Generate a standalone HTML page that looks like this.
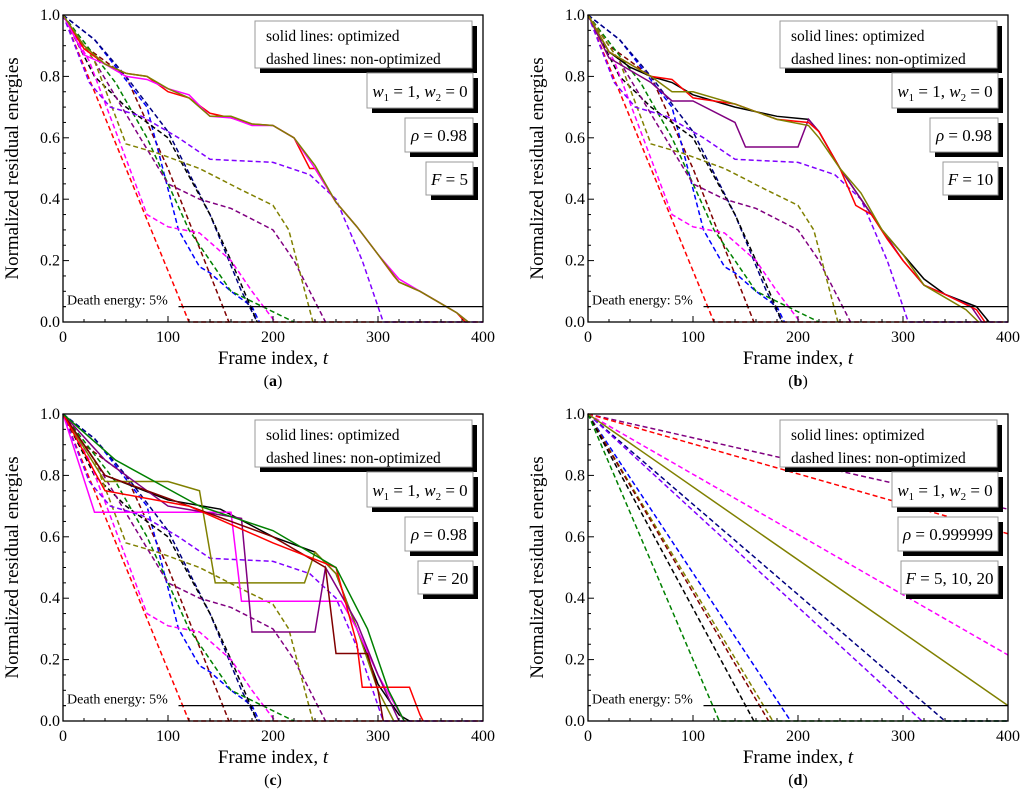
<!DOCTYPE html>
<html><head><meta charset="utf-8"><style>
html,body{margin:0;padding:0;background:#fff;}
svg text{font-family:"Liberation Serif",serif;fill:#000;}
</style></head><body>
<svg id="fig" width="1024" height="793" viewBox="0 0 1024 793" xmlns="http://www.w3.org/2000/svg"></svg>
<script>
// ---- data (t, normalized energy) ----
const dashA = {
 red:[[0,1],[120,0],[400,0]],
 darkred:[[0,1],[20,0.9],[60,0.8],[100,0.5],[158,0]],
 blue:[[0,1],[30,0.92],[80,0.7],[110,0.3],[130,0.18],[140,0.16],[160,0.1],[180,0.05],[187,0]],
 navy:[[0,1],[30,0.92],[60,0.8],[100,0.62],[140,0.35],[170,0.1],[185,0]],
 green:[[0,1],[50,0.78],[80,0.6],[120,0.3],[160,0.1],[190,0.05],[220,0]],
 black:[[0,1],[30,0.8],[60,0.7],[100,0.6],[140,0.35],[160,0.2],[185,0]],
 magenta:[[0,1],[25,0.85],[80,0.35],[100,0.31],[130,0.29],[160,0.2],[180,0.1],[202,0]],
 purple:[[0,1],[30,0.85],[70,0.62],[100,0.45],[130,0.4],[160,0.37],[200,0.3],[220,0.2],[250,0]],
 olive:[[0,1],[30,0.85],[60,0.58],[90,0.55],[130,0.5],[170,0.43],[200,0.38],[215,0.3],[238,0]],
 violet:[[0,1],[25,0.78],[45,0.7],[75,0.67],[110,0.6],[140,0.53],[200,0.52],[235,0.48],[260,0.4],[285,0.2],[305,0],[400,0]]
};
const solidA = {
 red:[[0,1],[20,0.89],[40,0.84],[60,0.81],[80,0.8],[100,0.75],[120,0.73],[140,0.68],[160,0.665],[180,0.645],[200,0.64],[220,0.6],[235,0.5],[240,0.5],[260,0.39],[280,0.31],[300,0.22],[315,0.15],[320,0.13],[340,0.1],[360,0.06],[375,0.03],[383,0]],
 magenta:[[0,1],[20,0.87],[40,0.84],[60,0.8],[80,0.79],[100,0.76],[120,0.74],[140,0.67],[160,0.665],[180,0.64],[200,0.64],[220,0.6],[240,0.5],[260,0.39],[280,0.31],[300,0.22],[320,0.14],[340,0.1],[360,0.06],[375,0.03],[386,0]],
 olive:[[0,1],[20,0.9],[40,0.84],[60,0.81],[80,0.8],[100,0.76],[120,0.73],[140,0.67],[160,0.67],[180,0.645],[200,0.64],[220,0.6],[240,0.51],[260,0.39],[280,0.31],[300,0.22],[320,0.13],[340,0.1],[360,0.06],[375,0.03],[386,0]]
};
const solidB = {
 black:[[0,1],[20,0.88],[40,0.83],[60,0.8],[80,0.78],[100,0.74],[140,0.7],[180,0.67],[210,0.66],[220,0.62],[240,0.5],[260,0.4],[280,0.3],[300,0.22],[320,0.14],[340,0.09],[370,0.05],[382,0]],
 purple:[[0,1],[20,0.86],[40,0.82],[60,0.78],[80,0.72],[100,0.72],[140,0.65],[150,0.57],[200,0.57],[210,0.66],[220,0.62],[240,0.5],[260,0.4],[280,0.3],[300,0.2],[320,0.12],[340,0.09],[365,0.05],[375,0]],
 red:[[0,1],[20,0.88],[40,0.84],[60,0.8],[80,0.79],[100,0.73],[140,0.71],[180,0.66],[210,0.65],[220,0.62],[240,0.5],[255,0.38],[270,0.35],[285,0.27],[300,0.2],[320,0.12],[340,0.09],[370,0.04],[378,0]],
 olive:[[0,1],[20,0.88],[40,0.84],[60,0.8],[80,0.75],[100,0.75],[140,0.71],[180,0.66],[210,0.64],[220,0.6],[240,0.5],[260,0.42],[280,0.3],[300,0.22],[320,0.12],[340,0.08],[360,0.04],[372,0]]
};
const solidC = {
 black:[[0,1],[40,0.8],[100,0.72],[150,0.69],[200,0.6],[240,0.55],[260,0.48],[280,0.3],[300,0.12],[320,0.02],[330,0]],
 olive:[[0,1],[40,0.78],[100,0.78],[130,0.75],[145,0.45],[230,0.45],[240,0.55],[260,0.48],[280,0.3],[300,0.1],[315,0]],
 magenta:[[0,1],[30,0.68],[100,0.68],[160,0.68],[170,0.39],[265,0.39],[280,0.3],[300,0.15],[320,0.03],[325,0]],
 purple:[[0,1],[40,0.85],[100,0.7],[170,0.66],[180,0.29],[240,0.29],[250,0.5],[280,0.32],[300,0.15],[320,0]],
 darkred:[[0,1],[40,0.8],[120,0.7],[200,0.6],[250,0.5],[260,0.22],[290,0.22],[300,0.1],[305,0]],
 red:[[0,1],[40,0.75],[120,0.7],[200,0.58],[260,0.5],[280,0.25],[285,0.11],[330,0.11],[340,0.02],[343,0]],
 green:[[0,1],[50,0.85],[130,0.7],[200,0.62],[260,0.5],[290,0.3],[310,0.1],[325,0]]
};
const dashD = {
 purple:[[0,1],[400,0.69]],
 red:[[0,1],[400,0.61]],
 magenta:[[0,1],[400,0.215]],
 navy:[[0,1],[340,0],[400,0]],
 violet:[[0,1],[318,0]],
 blue:[[0,1],[193,0]],
 olive:[[0,1],[176,0]],
 darkred:[[0,1],[172,0]],
 black:[[0,1],[158,0]],
 green:[[0,1],[125,0],[400,0]]
};
const solidD = { olive:[[0,1],[400,0.05]] };
const xTicks=[0,100,200,300,400];
const yTicks=[0,0.2,0.4,0.6,0.8,1.0];
const deathLevel=0.05;

const COL={red:'#ff0000',darkred:'#800000',blue:'#0000ff',navy:'#000080',green:'#008000',black:'#000000',magenta:'#ff00ff',purple:'#800080',olive:'#808000',violet:'#8000ff'};
const NS='http://www.w3.org/2000/svg';
const svg=document.getElementById('fig');
function el(tag,attrs,parent){const e=document.createElementNS(NS,tag);for(const k in attrs)e.setAttribute(k,attrs[k]);(parent||svg).appendChild(e);return e;}

function panel(id,L,T,R,B,dashed,solid,letter,boxes){
 const g=el('g',{});
 
 
 const sx=t=>L+(R-L)*t/400, sy=v=>B-(B-T)*v;
 const draw=(set,dash,kind)=>{for(const c in set){
   const p=el('polyline',{points:set[c].map(d=>sx(d[0])+','+sy(d[1])).join(' '),fill:'none',stroke:COL[c],'stroke-width':1.5,'stroke-dasharray':dash?'5,3':'none'},g);
   
   
 }};
 draw(dashed,true,'dashed');draw(solid,false,'solid');
 const fr=el('rect',{x:L,y:T,width:R-L,height:B-T,fill:'none',stroke:'#000','stroke-width':1.3},g);
 
 
 for(let t=0;t<=400;t+=20){const mj=t%100==0;el('line',{x1:sx(t),x2:sx(t),y1:B,y2:B-(mj?6:3),stroke:'#000'},g);}
 for(let i=0;i<=20;i++){const v=i*0.05;const mj=i%4==0;el('line',{x1:L,x2:L+(mj?6:3),y1:sy(v),y2:sy(v),stroke:'#000'},g);}
 xTicks.forEach(t=>{const tx=el('text',{x:sx(t),y:B+20,'font-size':16,'text-anchor':'middle'},g);tx.textContent=t;
   
   });
 yTicks.forEach(v=>{const tx=el('text',{x:L-3,y:sy(v)+5,'font-size':16,'text-anchor':'end'},g);tx.textContent=v.toFixed(1);
   
   });
 const dl=el('line',{x1:sx(110),x2:R,y1:sy(deathLevel),y2:sy(deathLevel),stroke:'#000','stroke-width':1.2},g);
 
 
 el('line',{x1:L,x2:L+3,y1:sy(deathLevel),y2:sy(deathLevel),stroke:'#000'},g);
 const dt=el('text',{x:L+4,y:sy(deathLevel)-2,'font-size':14},g);dt.textContent='Death energy: 5%';
 
 
 const xt=el('text',{x:(L+R)/2,y:B+42,'font-size':19,'text-anchor':'middle'},g);xt.innerHTML='Frame index, <tspan font-style="italic">t</tspan>';
 
 
 const yt=el('text',{x:0,y:0,'font-size':19,'text-anchor':'middle',transform:`translate(${L-45},${(T+B)/2}) rotate(-90)`},g);yt.textContent='Normalized residual energies';
 
 
 const lt=el('text',{x:(L+R)/2,y:B+64,'font-size':16,'text-anchor':'middle'},g);lt.innerHTML='(<tspan font-weight="bold">'+letter+'</tspan>)';
 
 
 boxes.forEach(b=>{
   const bg=el('g',{},g);
   
   
   el('rect',{x:L+b.x+5,y:T+b.y+5,width:b.w,height:b.h,fill:'#000'},bg);
   el('rect',{x:L+b.x,y:T+b.y,width:b.w,height:b.h,fill:'#fff',stroke:'#999','stroke-width':1},bg);
   b.lines.forEach((ln,i)=>{const tx=el('text',{x:L+b.x+(b.cx?b.w/2:11),y:T+b.y+b.ty+i*23,'font-size':b.fs||15,'text-anchor':b.cx?'middle':'start'},bg);tx.innerHTML=ln;});
 });
}
function legendBoxes(rho,F,fw,rw){
 return [
  {name:'legend-line-styles',x:192,y:6,w:217,h:47,ty:20,fs:15.5,lines:['solid lines: optimized','dashed lines: non-optimized']},
  {name:'legend-weights',x:304,y:58,w:106,h:35,ty:24,fs:17,cx:true,lines:['<tspan font-style="italic">w</tspan><tspan font-size="11" dy="4">1</tspan><tspan dy="-4"> = 1, </tspan><tspan font-style="italic">w</tspan><tspan font-size="11" dy="4">2</tspan><tspan dy="-4"> = 0</tspan>']},
  {name:'legend-rho',x:410-rw,y:103,w:rw,h:34,ty:23,fs:17,cx:true,lines:['<tspan font-style="italic">ρ</tspan> = '+rho]},
  {name:'legend-frames',x:410-fw,y:147,w:fw,h:33,ty:23,fs:17,cx:true,lines:['<tspan font-style="italic">F</tspan> = '+F]}
 ];
}
panel('a',63,15,483,322,dashA,solidA,'a',legendBoxes('0.98','5',47,68));
panel('b',588,15,1008,322,dashA,solidB,'b',legendBoxes('0.98','10',55,68));
panel('c',63,414,483,721,dashA,solidC,'c',legendBoxes('0.98','20',55,68));
panel('d',588,414,1008,721,dashD,solidD,'d',legendBoxes('0.999999','5, 10, 20',97,100));
</script>
</body></html>
